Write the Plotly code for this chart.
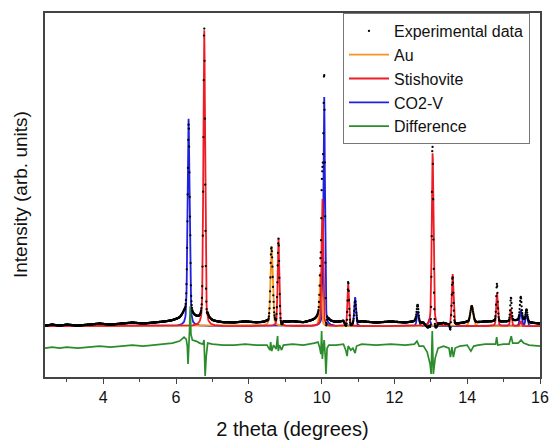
import numpy as np
import plotly.graph_objects as go

# ---- Peak parameters (position deg, height a.u., half-width deg)
au_pos = [8.625, 9.97, 14.12]
au_h = [79, 54, 21]
au_w = [0.037, 0.03, 0.05]

st_pos = [6.775, 8.815, 10.02, 10.73, 13.05, 13.60, 14.82, 15.20, 15.47]
st_h = [297, 88, 130, 42, 174, 52, 33, 17, 5]
st_w = [0.028, 0.025, 0.025, 0.025, 0.028, 0.028, 0.025, 0.022, 0.025]

co_pos = [6.344, 10.07, 10.92, 12.64, 12.96, 15.47, 15.63]
co_h = [208, 231, 29, 15, 7, 16, 12]
co_w = [0.032, 0.025, 0.028, 0.03, 0.03, 0.03, 0.03]

# ---- Difference curve (x, value)
diff_x = [2.4, 2.6, 2.8, 3.0, 3.3, 3.6, 3.9, 4.2, 4.5, 4.8, 5.1, 5.4, 5.7, 5.9, 6.1, 6.22, 6.28,
          6.31, 6.33, 6.35, 6.37, 6.39, 6.41, 6.45, 6.55, 6.65, 6.74, 6.77, 6.80, 6.83, 6.87, 7.0,
          7.3, 7.6, 7.9, 8.2, 8.5, 8.58, 8.6, 8.63, 8.68, 8.75, 8.79, 8.81, 8.84, 8.9, 8.95, 9.2,
          9.5, 9.8, 9.9, 9.95, 9.98, 10.0, 10.02, 10.05, 10.07, 10.1, 10.12, 10.15, 10.2, 10.4,
          10.6, 10.67, 10.7, 10.73, 10.8, 10.86, 10.92, 10.96, 11.1, 11.5, 11.9, 12.3, 12.55,
          12.62, 12.68, 12.8, 12.9, 12.98, 13.01, 13.04, 13.07, 13.12, 13.2, 13.35, 13.5, 13.54,
          13.58, 13.62, 13.67, 13.8, 14.0, 14.1, 14.18, 14.3, 14.5, 14.78, 14.81, 14.84, 15.0,
          15.15, 15.21, 15.25, 15.4, 15.48, 15.55, 15.7, 16.0]
diff_y = [-22, -21, -22, -21, -22, -21, -20, -21, -20, -19, -20, -19, -18, -17, -15, -11, -13,
          -20, -38, -25, -5, 20, -8, -14, -15, -17, -18, -14, -50, -30, -17, -18,
          -19, -19, -18, -19, -19, -24, -16, -25, -19, -23, -10, -25, -19, -24, -19, -18,
          -19, -17, -16, -22, -28, -5, -33, -20, -14, -30, -48, -22, -19, -19,
          -18, -25, -30, -20, -24, -22, -27, -20, -18, -19, -18, -19, -18,
          -15, -20, -20, -26, -38, -48, -5, -48, -32, -22, -20, -22, -31,
          -21, -31, -22, -20, -19, -25, -20, -19, -18, -18, -11, -19, -18,
          -18, -10, -17, -17, -14, -17, -19, -20]
diff_offset = -22.5
eta = 0.35  # Lorentzian fraction of the pseudo-Voigt peak shape

x = np.arange(2.4, 16.0001, 0.008)


def profile(pos, h, w):
    y = np.zeros_like(x)
    for p, a, g in zip(pos, h, w):
        d = (x - p) / g
        y += a * (eta / (1 + d ** 2) + (1 - eta) * np.exp(-np.log(2) * d ** 2))
    return y


au = profile(au_pos, au_h, au_w)
st = profile(st_pos, st_h, st_w)
co = profile(co_pos, co_h, co_w)
obs = au + st + co + np.interp(x, diff_x, diff_y) - diff_offset

fig = go.Figure()
fig.add_trace(go.Scatter(x=x, y=co, mode="lines", name="CO2-V", legendrank=4,
                         line=dict(color="#2020E0", width=1.8)))
fig.add_trace(go.Scatter(x=x, y=au, mode="lines", name="Au", legendrank=2,
                         line=dict(color="#F7931E", width=1.8)))
fig.add_trace(go.Scatter(x=x, y=st, mode="lines", name="Stishovite", legendrank=3,
                         line=dict(color="#EE1C24", width=1.8)))
fig.add_trace(go.Scatter(x=diff_x, y=diff_y, mode="lines", name="Difference", legendrank=5,
                         line=dict(color="#2A8C2A", width=1.7)))
fig.add_trace(go.Scatter(x=x, y=obs, mode="markers", name="Experimental data", legendrank=1,
                         marker=dict(color="black", size=2.3)))

fig.update_layout(
    width=552, height=440,
    margin=dict(l=45, r=12, t=13, b=63, autoexpand=False),
    paper_bgcolor="white", plot_bgcolor="white",
    font=dict(family="Liberation Sans, Arial, sans-serif", color="#111", size=15),
    showlegend=True,
    legend=dict(x=0.602, y=1.0, xanchor="left", yanchor="top",
                bgcolor="white", bordercolor="#777", borderwidth=1,
                font=dict(size=16), tracegroupgap=0, itemwidth=40,
                traceorder="normal"),
    annotations=[dict(text="Intensity (arb. units)", textangle=-90, showarrow=False,
                      xref="paper", yref="paper", x=0, y=0.5, xanchor="center",
                      yanchor="middle", xshift=-25, font=dict(size=19))],
)
fig.update_xaxes(range=[2.4, 16], showgrid=False, zeroline=False, automargin=False,
                 showline=True, linecolor="#444", linewidth=1.5, mirror=True,
                 tickmode="array", tickvals=[4, 6, 8, 10, 12, 14, 16],
                 ticks="outside", ticklen=5, tickcolor="#444",
                 minor=dict(tickvals=[3, 5, 7, 9, 11, 13, 15], ticks="outside",
                            ticklen=3, tickcolor="#444"),
                 tickfont=dict(size=16),
                 title=dict(text="2 theta (degrees)", font=dict(size=20), standoff=25))
fig.update_yaxes(range=[-51, 314], showgrid=False, zeroline=False, automargin=False,
                 showline=True, linecolor="#444", linewidth=1.5, mirror=True,
                 showticklabels=False, ticks="")

fig.write_html("out.html")
